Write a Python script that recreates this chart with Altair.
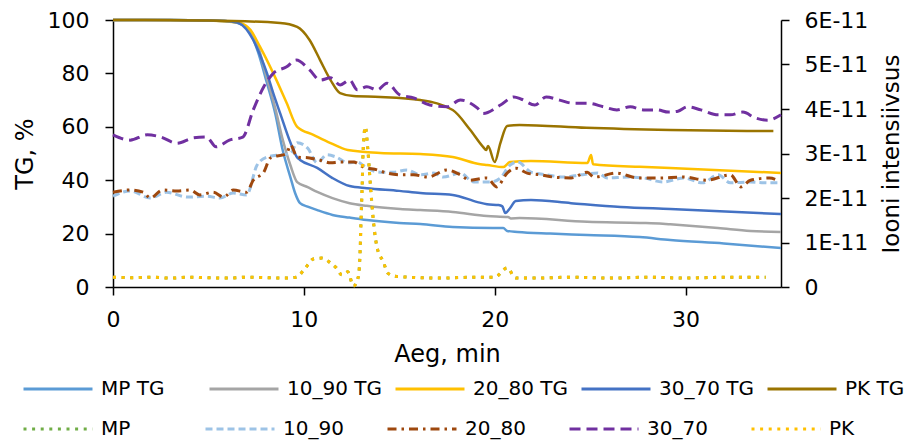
import altair as alt
import pandas as pd

# ---------------- data ----------------
# TG curves, % (left axis)
MP_TG_T = [0, 3, 5, 6, 6.7, 7.2, 7.6, 8.07, 8.5, 8.9, 9.3, 9.55, 9.8, 10.2, 10.7, 11.5, 12.4, 13.3, 15, 16.1, 17.8, 19.9, 20.45, 20.65, 21.2, 22.9, 24.85, 27.6, 29.2, 32, 35]
MP_TG = [100, 100, 99.8, 99.5, 98.5, 95, 88, 76.3, 65, 51, 41, 35, 31.4, 30.1, 28.8, 27, 26, 25.1, 24, 23.6, 22.5, 22.1, 22.1, 21, 20.6, 20, 19.5, 18.7, 17.6, 16.3, 14.6]

T1090_TG_T = [0, 3, 5, 6, 6.7, 7.2, 7.6, 8.07, 8.5, 8.9, 9.3, 9.65, 10.2, 10.7, 11.5, 12.4, 13.3, 15.05, 16.1, 17.8, 19.6, 20.7, 20.85, 21.3, 24.85, 27.6, 28.8, 29.2, 31.7, 33.4, 35]
T1090_TG = [100, 100, 99.8, 99.5, 98.7, 95.5, 90, 78, 67, 55, 45.5, 39.3, 37.4, 35.6, 33.3, 31.4, 30.4, 29.2, 28.8, 28.1, 26.6, 26.2, 25.7, 25.8, 24.4, 24, 23.7, 23.5, 22.1, 21, 20.6]

T2080_TG_T = [0, 3, 5, 6.1, 6.7, 7.2, 7.7, 8.4, 9.1, 9.65, 10.5, 11.4, 12.3, 14, 16.1, 17.8, 19.25, 19.6, 20.45, 20.8, 21.9, 24.85, 25.05, 25.15, 27.6, 29.2, 35]
T2080_TG = [100, 100, 99.8, 99.3, 98.8, 96.3, 90, 80, 68.9, 60, 57, 53.9, 51.3, 50.2, 49.8, 48.7, 46, 45.7, 44.9, 46.8, 47.2, 46.4, 49.4, 46, 45, 44.6, 42.7]

T3070_TG_T = [0, 3, 5, 6, 6.6, 7.35, 7.7, 8.07, 8.4, 8.76, 9.3, 9.65, 9.8, 10.7, 11.5, 12.4, 13.3, 15, 16.1, 17.8, 19.1, 19.6, 20.2, 20.4, 20.55, 20.8, 21.1, 21.9, 24, 26.6, 29.2, 35]
T3070_TG = [100, 100, 99.8, 99.5, 98.8, 92.5, 87, 80, 72.5, 65, 54, 48.5, 47.6, 44.6, 40.8, 37.8, 37, 36, 35.2, 34.5, 31.8, 31, 30.7, 30.2, 27.7, 29.5, 32.2, 32.6, 31.4, 30, 29.2, 27.3]

PK_TG_T = [0, 5, 8.76, 9.65, 10.3, 10.85, 11.4, 11.9, 12.6, 14, 16.1, 17.8, 18.7, 19.4, 19.55, 19.65, 20.0, 20.3, 20.65, 21.3, 24.8, 29.2, 34.6]
PK_TG = [100, 99.8, 98.9, 97.4, 92.5, 85, 77.5, 72.6, 71.5, 71.2, 70, 66.3, 59, 52.4, 51.3, 52.8, 46.8, 54, 60.3, 60.7, 59.6, 58.8, 58.4]

# Ion intensity, in units of 1E-11 (right axis)
PK_ION_T = [0, 1, 2, 3, 4, 5, 6, 7, 8, 9, 9.6, 10, 10.5, 10.95, 11.4, 11.7, 12.0, 12.3, 12.6, 12.85, 12.95, 13.0, 13.06, 13.1, 13.22, 13.35, 13.48, 13.64, 13.83, 14.17, 14.4, 14.8, 15.5, 17, 19, 20.0, 20.65, 21.1, 22, 24, 26, 28, 30, 32, 34.2]
PK_ION = [0.22, 0.21, 0.22, 0.2, 0.22, 0.21, 0.2, 0.22, 0.21, 0.2, 0.22, 0.38, 0.63, 0.65, 0.54, 0.43, 0.27, 0.34, 0.02, 0.22, 0.83, 1.57, 2.33, 3.0, 3.6, 3.1, 2.33, 1.5, 0.9, 0.56, 0.31, 0.24, 0.22, 0.2, 0.22, 0.22, 0.43, 0.2, 0.2, 0.22, 0.2, 0.22, 0.2, 0.22, 0.22]

# MP ion curve lies hidden under the PK curve in the reference
MP_ION_T = list(PK_ION_T)
MP_ION = list(PK_ION)

T1090_ION_T = [0, 0.9, 1.95, 2.8, 3.9, 4.9, 5.6, 6.3, 7.0, 7.55, 8.07, 8.76, 9.3, 9.65, 10.2, 10.7, 11.2, 11.7, 12.3, 12.8, 13.3, 14.0, 14.7, 15.4, 16.1, 16.8, 17.3, 18.2, 18.9, 19.8, 20.3, 20.8, 21.2, 21.9, 22.75, 23.6, 24.5, 25.4, 25.9, 26.95, 27.8, 28.8, 29.9, 30.9, 31.7, 32.35, 33.4, 34.3, 35]
T1090_ION = [2.04, 2.16, 2.0, 2.13, 2.02, 2.04, 2.0, 2.11, 2.07, 2.74, 2.92, 2.97, 3.0, 3.24, 3.12, 2.79, 2.97, 2.92, 2.79, 2.81, 2.67, 2.58, 2.58, 2.63, 2.52, 2.56, 2.47, 2.56, 2.36, 2.36, 2.45, 2.74, 2.81, 2.58, 2.52, 2.47, 2.52, 2.56, 2.45, 2.47, 2.45, 2.36, 2.45, 2.34, 2.52, 2.34, 2.36, 2.34, 2.34]

T2080_ION_T = [0, 0.9, 1.6, 1.95, 2.6, 3.35, 4.05, 4.55, 5.25, 5.8, 6.3, 7.0, 7.35, 7.9, 8.25, 9.1, 9.3, 9.65, 10.3, 10.85, 11.4, 11.9, 12.6, 13.1, 13.85, 14.35, 15.05, 15.75, 16.5, 17.5, 18.2, 18.7, 19.6, 20.1, 20.65, 21.1, 21.7, 22.4, 23.1, 24.0, 24.85, 25.2, 26.4, 27.5, 28.6, 29.9, 31.1, 32.35, 32.9, 33.4, 34.4, 34.8]
T2080_ION = [2.13, 2.18, 2.13, 2.0, 2.18, 2.16, 2.18, 2.07, 2.13, 2.02, 2.18, 2.13, 2.4, 2.58, 2.9, 3.0, 3.19, 2.92, 2.9, 2.85, 2.79, 2.81, 2.81, 2.7, 2.63, 2.56, 2.52, 2.52, 2.47, 2.63, 2.52, 2.4, 2.45, 2.25, 2.56, 2.67, 2.56, 2.52, 2.47, 2.45, 2.58, 2.47, 2.56, 2.45, 2.45, 2.47, 2.4, 2.52, 2.25, 2.4, 2.45, 2.4]

T3070_ION_T = [0, 0.9, 1.8, 2.5, 3.35, 4.2, 4.9, 5.4, 6.1, 6.8, 7.35, 7.9, 8.4, 9.1, 9.6, 10.3, 10.85, 11.4, 11.9, 12.4, 12.8, 13.3, 13.85, 14.35, 15.05, 15.75, 16.6, 17.5, 18.2, 19.1, 19.4, 20.3, 21.0, 21.4, 22.1, 22.7, 23.4, 24.1, 24.85, 25.7, 26.4, 27.1, 27.8, 28.5, 29.1, 29.6, 30.1, 30.8, 31.7, 32.35, 33.0, 33.65, 34.3, 35]
T3070_ION = [3.42, 3.3, 3.42, 3.37, 3.23, 3.35, 3.37, 3.15, 3.3, 3.37, 3.98, 4.5, 4.8, 4.95, 5.1, 4.88, 4.65, 4.7, 4.54, 4.65, 4.43, 4.5, 4.43, 4.58, 4.31, 4.25, 4.09, 4.05, 4.2, 4.02, 3.9, 4.09, 4.27, 4.22, 4.09, 4.27, 4.2, 4.13, 4.13, 4.05, 3.98, 4.05, 3.98, 3.98, 3.93, 3.95, 4.05, 3.98, 3.87, 3.87, 3.93, 3.8, 3.75, 3.87]

TG_NAMES = ["MP TG", "10_90 TG", "20_80 TG", "30_70 TG", "PK TG"]
TG_COLORS = ["#5B9BD5", "#A5A5A5", "#FFC000", "#4472C4", "#9A7400"]
ION_NAMES = ["MP", "10_90", "20_80", "30_70", "PK"]
ION_COLORS = ["#70AD47", "#9DC3E6", "#9E480E", "#7030A0", "#FFC000"]
ION_DASHES = [[3, 5.6], [7, 4], [9, 5, 2.5, 5], [11, 6], [3, 5.6]]

tg_series = [(MP_TG_T, MP_TG), (T1090_TG_T, T1090_TG), (T2080_TG_T, T2080_TG), (T3070_TG_T, T3070_TG), (PK_TG_T, PK_TG)]
ion_series = [(MP_ION_T, MP_ION), (T1090_ION_T, T1090_ION), (T2080_ION_T, T2080_ION), (T3070_ION_T, T3070_ION), (PK_ION_T, PK_ION)]

tg_rows = []
for name, (ts, vs) in zip(TG_NAMES, tg_series):
    for t, v in zip(ts, vs):
        tg_rows.append({"t": t, "v": v, "series": name})
ion_rows = []
for name, (ts, vs) in zip(ION_NAMES, ion_series):
    for t, v in zip(ts, vs):
        ion_rows.append({"t": t, "v": v, "series": name})
df_tg = pd.DataFrame(tg_rows)
df_ion = pd.DataFrame(ion_rows)

FONT = "DejaVu Sans"

x_enc = alt.X("t:Q", scale=alt.Scale(domain=[0, 35], nice=False, zero=False),
              axis=alt.Axis(values=[0, 10, 20, 30], title="Aeg, min", labelPadding=14, titlePadding=12,
                            labelFlush=False))


def legend_row(y, col_pad):
    return alt.Legend(orient="none", legendX=-91, legendY=y, direction="horizontal", columns=5,
                      symbolType="stroke", symbolSize=4761, symbolStrokeWidth=3,
                      labelFont=FONT, labelFontSize=20, labelColor="black", labelOffset=7,
                      columnPadding=col_pad, gridAlign="all", title=None, padding=0, labelLimit=200)


tg = alt.Chart(df_tg).mark_line(strokeWidth=2.5, interpolate="monotone").encode(
    x=x_enc,
    y=alt.Y("v:Q", scale=alt.Scale(domain=[0, 100], nice=False),
            axis=alt.Axis(orient="left", values=[0, 20, 40, 60, 80, 100], title="TG, %",
                          labelPadding=16, titlePadding=10, labelFlush=False)),
    color=alt.Color("series:N", scale=alt.Scale(domain=TG_NAMES, range=TG_COLORS), legend=legend_row(333, 7)),
)

lg2 = legend_row(373, 37)
ion = alt.Chart(df_ion).mark_line(strokeWidth=3, interpolate="monotone").encode(
    x=x_enc,
    y=alt.Y("v:Q", scale=alt.Scale(domain=[0, 6], nice=False),
            axis=alt.Axis(orient="right", values=[0, 1, 2, 3, 4, 5, 6], title="Iooni intensiivsus",
                          labelExpr="datum.value == 0 ? '0' : datum.value + 'E-11'",
                          labelPadding=15, titlePadding=13, titleFontSize=23, titleAngle=270,
                          titleBaseline="top", labelFlush=False)),
    stroke=alt.Stroke("series:N", scale=alt.Scale(domain=ION_NAMES, range=ION_COLORS), legend=lg2),
    strokeDash=alt.StrokeDash("series:N", scale=alt.Scale(domain=ION_NAMES, range=ION_DASHES), legend=lg2),
)

chart = alt.layer(tg, ion).resolve_scale(y="independent").properties(
    width=668, height=267,
    autosize=alt.AutoSizeParams(type="none"),
    padding={"left": 105, "top": 12, "right": 124, "bottom": 154},
).configure_view(stroke=None).configure_axis(
    labelFont=FONT, titleFont=FONT, labelFontSize=22, titleFontSize=24, titleFontWeight="normal",
    labelColor="black", titleColor="black", domainColor="black", domainWidth=1.5,
    tickColor="black", tickWidth=1.5, tickSize=8, grid=False,
)

chart.save("out.html", embed_options={"renderer": "svg", "actions": False})
